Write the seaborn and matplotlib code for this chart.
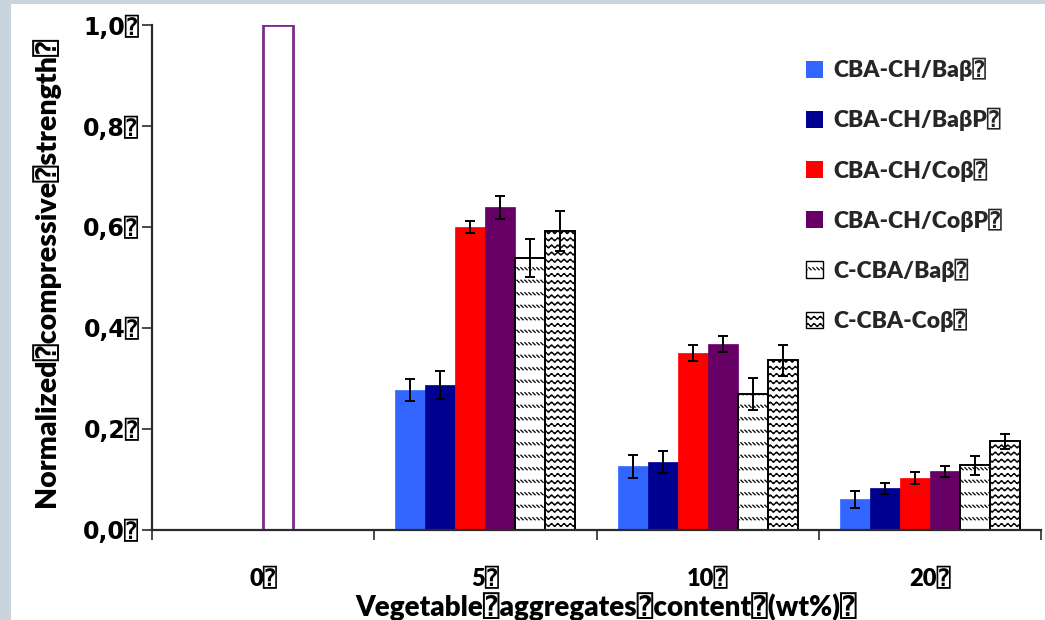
import numpy as np
import pandas as pd
import matplotlib
matplotlib.use("Agg")
import matplotlib.pyplot as plt
import matplotlib.hatch as mhatch
from matplotlib.path import Path
from matplotlib.patches import Patch, Rectangle
import seaborn as sns

# ---------------------------------------------------------------- data
categories = ["0", "5", "10", "20"]
tick_labels = ["0⍰", "5⍰", "10⍰", "20⍰"]
series = ["CBA-CH/Baβ", "CBA-CH/BaβP", "CBA-CH/Coβ",
          "CBA-CH/CoβP", "C-CBA/Baβ", "C-CBA-Coβ"]
legend_labels = [s + "⍰" for s in series]

baB = [np.nan, 0.277, 0.125, 0.060]
baBP = [np.nan, 0.286, 0.134, 0.082]
coB = [np.nan, 0.600, 0.350, 0.102]
coBP = [1.000, 0.639, 0.367, 0.115]
ccBa = [np.nan, 0.538, 0.269, 0.127]
ccCo = [np.nan, 0.592, 0.335, 0.175]

baB_err = [np.nan, 0.022, 0.022, 0.017]
baBP_err = [np.nan, 0.028, 0.022, 0.011]
coB_err = [np.nan, 0.012, 0.016, 0.012]
coBP_err = [np.nan, 0.023, 0.016, 0.011]
ccBa_err = [np.nan, 0.038, 0.032, 0.018]
ccCo_err = [np.nan, 0.039, 0.030, 0.015]

y_ticks = [0.0, 0.2, 0.4, 0.6, 0.8, 1.0]
y_tick_labels = ["0,0⍰", "0,2⍰", "0,4⍰", "0,6⍰", "0,8⍰", "1,0⍰"]
x_label = "Vegetable⍰aggregates⍰content⍰(wt%)⍰"
y_label = "Normalized⍰compressive⍰strength⍰"

values = dict(zip(series, [baB, baBP, coB, coBP, ccBa, ccCo]))
errors = dict(zip(series, [baB_err, baBP_err, coB_err, coBP_err, ccBa_err, ccCo_err]))

rows = [(c, s, v) for s in series for c, v in zip(categories, values[s])
        if not np.isnan(v)]
df = pd.DataFrame(rows, columns=["content", "mix", "strength"])


# ---------------------------------------------------------------- hatches
class WaveHatch(mhatch.HatchPatternBase):
    """Rows of small horizontal waves ('o')."""
    waves = 16
    steps = 8

    def __init__(self, hatch, density):
        self.num_rows = int(hatch.count("o") * 7)
        self.per_row = self.waves * self.steps + 1
        self.num_vertices = self.num_rows * self.per_row

    def set_vertices_and_codes(self, vertices, codes):
        xs = np.linspace(0.0, 1.0, self.per_row)
        wave = 0.015 * np.sin(2 * np.pi * self.waves * xs)
        for i in range(self.num_rows):
            sl = slice(i * self.per_row, (i + 1) * self.per_row)
            vertices[sl, 0] = xs
            vertices[sl, 1] = (i + 0.5) / self.num_rows + wave
            codes[sl] = Path.LINETO
            codes[i * self.per_row] = Path.MOVETO


class DashedDiagonalHatch(mhatch.HatchPatternBase):
    """Rows of short downward diagonal dashes ('O')."""
    per_row = 25

    def __init__(self, hatch, density):
        self.num_rows = int(hatch.count("O") * 8)
        self.num_vertices = self.num_rows * self.per_row * 2

    def set_vertices_and_codes(self, vertices, codes):
        d = 0.011
        yc = (np.arange(self.num_rows) + 0.5) / self.num_rows
        xc = (np.arange(self.per_row) + 0.5) / self.per_row
        X, Y = np.meshgrid(xc, yc)
        X, Y = X.ravel(), Y.ravel()
        vertices[0::2, 0] = X - d
        vertices[0::2, 1] = Y + d
        vertices[1::2, 0] = X + d
        vertices[1::2, 1] = Y - d
        codes[0::2] = Path.MOVETO
        codes[1::2] = Path.LINETO


_types = mhatch._hatch_types
_types[_types.index(mhatch.SmallCircles)] = WaveHatch
_types[_types.index(mhatch.LargeCircles)] = DashedDiagonalHatch

# ---------------------------------------------------------------- style
sns.set_theme(style="white")
plt.rcParams["font.family"] = ["Lato", "DejaVu Sans", "DejaVu Sans Mono"]
plt.rcParams["font.weight"] = "heavy"
plt.rcParams["hatch.linewidth"] = 0.9

WEIGHT = "heavy"
colors = ["#3366ff", "#000090", "#ff0000", "#660066", "white", "white"]
hatches = [None, None, None, None, "O", "oo"]
edge_colors = ["#3366ff", "#000090", "#ff0000", "#660066", "black", "black"]
ref_edge = "#7f2a8c"
axis_color = "#2b2b2b"

fig = plt.figure(figsize=(10.45, 6.2), dpi=100)
fig.patch.set_facecolor("#c9d4dc")
fig.patches.append(Rectangle((11 / 1045, 0), 1 - 11 / 1045, 1 - 4 / 620,
                             transform=fig.transFigure, facecolor="white",
                             edgecolor="none", zorder=-10))

ax = fig.add_axes([152 / 1045, (620 - 529.5) / 620, 889 / 1045, 504.5 / 620])
ax.set_facecolor("none")
ax.set_zorder(1)

sns.barplot(data=df, x="content", y="strength", hue="mix", order=categories,
            hue_order=series, palette=dict(zip(series, colors)),
            width=0.81, errorbar=None, saturation=1, legend=False, ax=ax)

# restyle bars and attach the error bars
for s, cont, hatch, ec in zip(series, ax.containers, hatches, edge_colors):
    for bar in cont:
        xc = bar.get_x() + bar.get_width() / 2
        ci = int(round(xc))
        if hatch:
            bar.set_hatch(hatch)
            bar.set_edgecolor(ec)
            bar.set_linewidth(1.4)
        else:
            bar.set_edgecolor(ec)
            bar.set_linewidth(0.5)
        err = errors[s][ci]
        if np.isnan(err):
            # reference bar: open box
            bar.set_facecolor("white")
            bar.set_edgecolor(ref_edge)
            bar.set_linewidth(2.0)
            continue
        ax.errorbar(xc, bar.get_height(), yerr=err, fmt="none",
                    ecolor="black", elinewidth=1.4, capsize=3.4,
                    capthick=1.4, zorder=5)

# ---------------------------------------------------------------- axes
ax.set_xlim(-0.5, 3.5)
ax.set_ylim(0, 1.0)
ax.set_yticks(y_ticks)
ax.set_yticklabels(y_tick_labels, fontfamily=["DejaVu Sans", "DejaVu Sans Mono"],
                   fontsize=17, fontweight="bold", color="black")
ax.set_xticks(range(len(categories)))
ax.set_xticklabels(tick_labels, fontsize=17, fontweight=WEIGHT, color="black")
ax.set_xticks(np.arange(-0.5, len(categories)), minor=True)
ax.tick_params(axis="x", which="major", length=0, pad=27)
ax.tick_params(axis="x", which="minor", length=7, width=1.2, color=axis_color,
               direction="out", bottom=True)
ax.tick_params(axis="y", which="major", length=7, width=1.2, color=axis_color,
               direction="out", left=True, pad=2)

for side in ("top", "right"):
    ax.spines[side].set_visible(False)
for side in ("left", "bottom"):
    ax.spines[side].set_color(axis_color)
    ax.spines[side].set_linewidth(1.6)

ax.set_xlabel(x_label, fontsize=20, fontweight=WEIGHT, color="black")
ax.set_ylabel(y_label, fontsize=20.5, fontweight=WEIGHT, color="black")
ax.xaxis.set_label_coords((606 - 152) / 889, (529.5 - 606.5) / 504.5)
ax.yaxis.set_label_coords((46 - 152) / 889, (529.5 - 272) / 504.5)
ax.xaxis.label.set_va("center")
ax.yaxis.label.set_va("center")

# ---------------------------------------------------------------- legend
handles = [Patch(facecolor=c, edgecolor=(e if h else c), hatch=h,
                 linewidth=(1.0 if h else 0))
           for c, h, e in zip(colors, hatches, edge_colors)]
leg = ax.legend(handles, legend_labels, loc="upper left",
                bbox_to_anchor=(806 / 1045, 1 - 58 / 620),
                bbox_transform=fig.transFigure, frameon=False, fontsize=16.5,
                handlelength=0.75, handleheight=0.75, handletextpad=0.45,
                labelspacing=1.17, borderpad=0, borderaxespad=0)
for t in leg.get_texts():
    t.set_fontweight(WEIGHT)

fig.savefig("out.png", dpi=100, facecolor=fig.get_facecolor())
